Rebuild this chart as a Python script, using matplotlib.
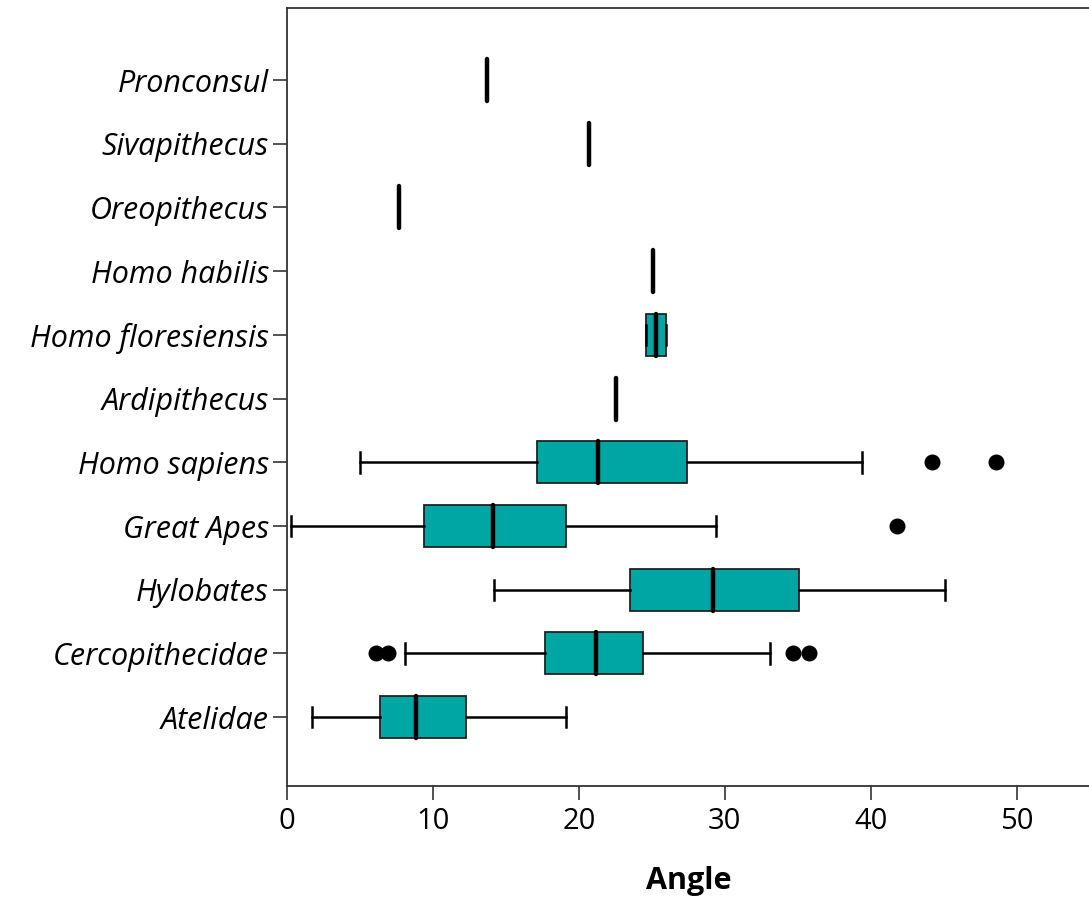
import matplotlib
matplotlib.use("Agg")
import matplotlib.pyplot as plt

# Categories listed bottom to top
categories = ["Atelidae", "Cercopithecidae", "Hylobates", "Great Apes", "Homo sapiens",
              "Ardipithecus", "Homo floresiensis", "Homo habilis", "Oreopithecus",
              "Sivapithecus", "Pronconsul"]
whislo = [1.7, 8.1, 14.2, 0.3, 5.0, 22.55, 24.6, 25.1, 7.7, 20.7, 13.7]
q1     = [6.4, 17.65, 23.5, 9.37, 17.1, 22.55, 24.6, 25.1, 7.7, 20.7, 13.7]
med    = [8.85, 21.2, 29.2, 14.1, 21.3, 22.55, 25.3, 25.1, 7.7, 20.7, 13.7]
q3     = [12.27, 24.38, 35.1, 19.13, 27.4, 22.55, 26.0, 25.1, 7.7, 20.7, 13.7]
whishi = [19.13, 33.1, 45.1, 29.4, 39.4, 22.55, 26.0, 25.1, 7.7, 20.7, 13.7]
fliers = [[], [6.1, 6.9, 34.7, 35.8], [], [41.8], [44.2, 48.6], [], [], [], [], [], []]
xticks = [0, 10, 20, 30, 40, 50]

stats = []
for i, c in enumerate(categories):
    stats.append(dict(label=c, whislo=whislo[i], q1=q1[i], med=med[i],
                      q3=q3[i], whishi=whishi[i], fliers=fliers[i]))

fig = plt.figure(figsize=(10.89, 9.05), dpi=100)
ax = fig.add_axes([287/1089, 119/905, 1 - 287/1089 + 0.002, (786-8)/905])

teal = "#00A6A3"
ax.bxp(stats, positions=list(range(len(categories))), orientation="horizontal",
       widths=0.66, capwidths=0.32, patch_artist=True,
       boxprops=dict(facecolor=teal, edgecolor="#222222", linewidth=1.3),
       whiskerprops=dict(color="black", linewidth=1.8),
       capprops=dict(color="black", linewidth=1.8),
       medianprops=dict(color="black", linewidth=3.2, solid_capstyle="round"),
       flierprops=dict(marker="o", markerfacecolor="black", markeredgecolor="black",
                       markersize=10.5))

ax.set_xlim(0, 55.1)
ax.set_ylim(-1.08, 11.13)
ax.set_xticks(xticks)
ax.set_xticklabels([str(t) for t in xticks])
ax.set_yticks(range(len(categories)))
ax.set_yticklabels(categories, fontstyle="italic", fontsize=22, family="Open Sans")
for lab in ax.get_xticklabels():
    lab.set_fontsize(21)
    lab.set_family("Open Sans")
ax.tick_params(axis="both", length=10, width=1.2, color="#333333")
ax.tick_params(axis="y", pad=3)
ax.tick_params(axis="x", pad=5)
ax.spines["right"].set_visible(False)
for s in ["left", "bottom", "top"]:
    ax.spines[s].set_linewidth(1.3)
    ax.spines[s].set_color("#333333")
ax.set_xlabel("Angle", fontsize=22, fontweight="bold", family="Open Sans", labelpad=22)

fig.savefig("out.png", dpi=100)
